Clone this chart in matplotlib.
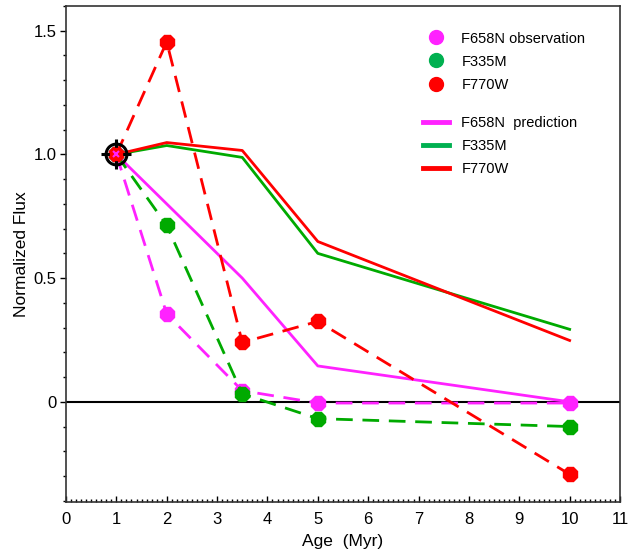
import matplotlib
matplotlib.use('Agg')
import matplotlib.pyplot as plt
from matplotlib.lines import Line2D
from matplotlib.ticker import MultipleLocator, FuncFormatter

plt.rcParams['font.family'] = ['Liberation Sans', 'DejaVu Sans']

# observed ages (Myr) and normalized flux
age_obs = [1, 2, 3.5, 5, 10]
f658n_obs = [1.0, 0.355, 0.045, -0.005, -0.005]
f335m_obs = [1.0, 0.713, 0.032, -0.068, -0.100]
f770w_obs = [1.0, 1.455, 0.240, 0.325, -0.293]

# model predictions
age_pred = [1, 2, 3.5, 5, 10]
f658n_pred = [1.0, 0.80, 0.50, 0.145, 0.0]
f335m_pred = [1.0, 1.036, 0.988, 0.600, 0.293]
f770w_pred = [1.0, 1.048, 1.016, 0.648, 0.248]

magenta = '#ff22ff'
green = '#00aa00'
red = '#ff0000'

fig = plt.figure(figsize=(6.44, 5.55), dpi=100)
ax = fig.add_axes([66/644, 53/555, (620-66)/644, 496/555])

# zero line
ax.axhline(0, color='black', lw=1.5, zorder=1)

# predictions (solid)
ax.plot(age_pred, f658n_pred, color=magenta, lw=2, zorder=2)
ax.plot(age_pred, f335m_pred, color=green, lw=2, zorder=2)
ax.plot(age_pred, f770w_pred, color=red, lw=2, zorder=2)

# observations (dashed + markers)
dash = (6, 3.5)
for y, c in [(f658n_obs, magenta), (f335m_obs, green), (f770w_obs, red)]:
    ax.plot(age_obs, y, color=c, lw=2, ls=(0, dash), marker='8', ms=10.5,
            mfc=c, mec=c, zorder=3)

# reference point marker at age 1
ax.plot(1, 1, marker='+', ms=22, mew=2.2, color='black', zorder=4)
ax.plot(1, 1, marker='8', ms=10, color=red, zorder=5)
ax.plot(1, 1, marker='x', ms=5, mew=1.5, color=magenta, zorder=6)
ax.plot(1, 1, marker='o', ms=15, mfc='none', mec='black', mew=2.2, zorder=7)

ax.set_xlim(0, 11)
ax.set_ylim(-0.405, 1.6)

ax.xaxis.set_major_locator(MultipleLocator(1))
ax.xaxis.set_minor_locator(MultipleLocator(0.1))
ax.yaxis.set_major_locator(MultipleLocator(0.5))
ax.yaxis.set_minor_locator(MultipleLocator(0.1))
ax.yaxis.set_major_formatter(FuncFormatter(lambda v, p: '0' if abs(v) < 1e-9 else f'{v:.1f}'))

ax.tick_params(axis='x', which='major', direction='in', length=4, width=1, labelsize=12, pad=7)
ax.tick_params(axis='x', which='minor', direction='in', length=2.5, width=1)
ax.tick_params(axis='y', which='major', direction='out', length=4, width=1, labelsize=12, pad=3)
ax.tick_params(axis='y', which='minor', direction='out', length=2.5, width=1)

for s in ax.spines.values():
    s.set_linewidth(1.2)
    s.set_color('#333333')

ax.set_xlabel('Age  (Myr)', fontsize=12.5, labelpad=5)
ax.set_ylabel('Normalized Flux', fontsize=12.5, labelpad=3)

# legends
obs_handles = [Line2D([], [], ls='none', marker='o', ms=10, color=c)
               for c in (magenta, '#00b050', red)]
leg1 = ax.legend(obs_handles, ['F658N observation', 'F335M', 'F770W'],
                 loc='upper left', bbox_to_anchor=(0.62, 0.975), frameon=False,
                 fontsize=10.5, labelspacing=0.62, handletextpad=0.85,
                 handlelength=1.8)
ax.add_artist(leg1)

pred_handles = [Line2D([], [], color=c, lw=3.5) for c in (magenta, '#00b050', red)]
ax.legend(pred_handles, ['F658N  prediction', 'F335M', 'F770W'],
          loc='upper left', bbox_to_anchor=(0.62, 0.805), frameon=False,
          fontsize=10.5, labelspacing=0.62, handletextpad=0.85,
          handlelength=1.8)

fig.savefig('out.png', dpi=100)
